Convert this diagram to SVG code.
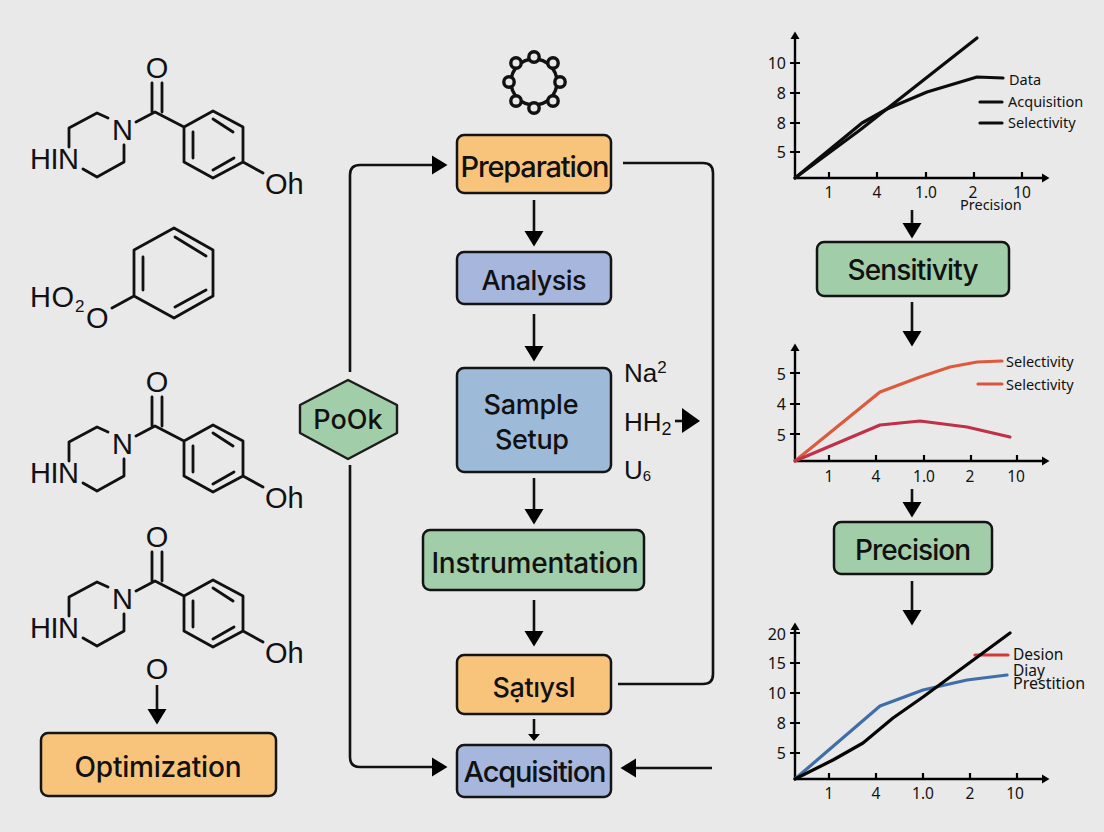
<svg xmlns="http://www.w3.org/2000/svg" width="1104" height="832" viewBox="0 0 1104 832">
<style>
.bg{fill:#e9e9e9}
.box{stroke:#141414;stroke-width:2.5}
.orange{fill:#f8c47c}.blue{fill:#a6b6dc}.sky{fill:#9dbad8}.green{fill:#a1cda8}
.lbl{font-family:Inter,"Noto Sans","Liberation Sans",sans-serif;font-weight:500;fill:#111;text-anchor:middle}
.chem{font-family:"Liberation Sans",Arial,sans-serif;font-size:29px;fill:#111}
.bond{fill:none;stroke:#111;stroke-width:2.8;stroke-linejoin:round;stroke-linecap:round}
.conn{fill:none;stroke:#111;stroke-width:2.6}
.axis{fill:none;stroke:#000;stroke-width:2.4}
.tick{fill:none;stroke:#000;stroke-width:2.2}
.plot{fill:none;stroke-width:3.2;stroke-linejoin:round;stroke-linecap:round}
.ynum{font-family:"Noto Sans","Liberation Sans",sans-serif;font-size:16px;fill:#111;text-anchor:end}
.xnum{font-family:"Noto Sans","Liberation Sans",sans-serif;font-size:15.5px;fill:#111;text-anchor:middle}
.leg{font-family:"Noto Sans","Liberation Sans",sans-serif;font-size:14.5px;fill:#111}
</style>
<defs>
<marker id="head" markerUnits="userSpaceOnUse" markerWidth="17" markerHeight="22" refX="1" refY="10" orient="auto"><polygon points="0,0.5 15.5,10 0,19.5" fill="#000"/></marker>
<marker id="small" markerUnits="userSpaceOnUse" markerWidth="10" markerHeight="14" refX="1" refY="7" orient="auto"><polygon points="0,1 7,7 0,13" fill="#000"/></marker>
<marker id="tip" markerUnits="userSpaceOnUse" markerWidth="10" markerHeight="12" refX="1" refY="5" orient="auto"><polygon points="0,0.5 7.5,5 0,9.5" fill="#000"/></marker>
</defs>
<rect class="bg" width="1104" height="832"/>

<g id="connectors">
<path class="conn" d="M350 372V175Q350 165 360 165H433" marker-end="url(#head)"/>
<path class="conn" d="M350 465V757Q350 767 360 767H433" marker-end="url(#head)"/>
<path class="conn" d="M623 163H703Q713 163 713 173V674Q713 684 703 684H618"/>
<path class="conn" d="M712 768H635" marker-end="url(#head)"/>
<path class="conn" d="M534 200V232" marker-end="url(#head)"/>
<path class="conn" d="M534 314V347" marker-end="url(#head)"/>
<path class="conn" d="M534 478V510" marker-end="url(#head)"/>
<path class="conn" d="M534 600V632" marker-end="url(#head)"/>
<path class="conn" d="M534 719V735" marker-end="url(#small)"/>
<path class="conn" d="M675 421H683"/>
<polygon points="682,408 700,421 682,433" fill="#000"/>
<path class="conn" d="M157 685V710" marker-end="url(#head)"/>
<path class="conn" d="M912 210V224" marker-end="url(#head)"/>
<path class="conn" d="M912 302V332" marker-end="url(#head)"/>
<path class="conn" d="M912 489V503" marker-end="url(#head)"/>
<path class="conn" d="M912 581V611" marker-end="url(#head)"/>
</g>

<g id="mol1">
<path class="bond" d="M108 118L97 113L69 128V147M124 145V162L97 177L83 169M136 122L155 112L184 127L213 111L243 127V162L213 178L184 162V127M193 132V158M213 119L233 132M213 170L234 158M243 162L263 173M152 83V112M162 83V112"/>
<text class="chem" x="112" y="140">N</text><text class="chem" x="30" y="169" textLength="49">HIN</text><text class="chem" x="265" y="194">Oh</text><text class="chem" x="157" y="78" text-anchor="middle">O</text>
</g>
<g id="mol2">
<path class="bond" d="M174 228L213 250V296L174 318L134 296V250ZM143 257V290M175 237L206 256M175 307L206 290M134 296L112 308"/>
<text class="chem" x="30" y="307" textLength="44">HO</text><text class="chem" x="75" y="312" style="font-size:17px">2</text><text class="chem" x="86" y="328">O</text>
</g>
<g id="mol3" transform="translate(0 314)">
<path class="bond" d="M108 118L97 113L69 128V147M124 145V162L97 177L83 169M136 122L155 112L184 127L213 111L243 127V162L213 178L184 162V127M193 132V158M213 119L233 132M213 170L234 158M243 162L263 173M152 83V112M162 83V112"/>
<text class="chem" x="112" y="140">N</text><text class="chem" x="30" y="169" textLength="49">HIN</text><text class="chem" x="265" y="194">Oh</text><text class="chem" x="157" y="78" text-anchor="middle">O</text>
</g>
<g id="mol4" transform="translate(0 469)">
<path class="bond" d="M108 118L97 113L69 128V147M124 145V162L97 177L83 169M136 122L155 112L184 127L213 111L243 127V162L213 178L184 162V127M193 132V158M213 119L233 132M213 170L234 158M243 162L263 173M152 83V112M162 83V112"/>
<text class="chem" x="112" y="140">N</text><text class="chem" x="30" y="169" textLength="49">HIN</text><text class="chem" x="265" y="194">Oh</text><text class="chem" x="157" y="78" text-anchor="middle">O</text>
</g>
<g id="mol5"><text class="chem" x="157" y="679" text-anchor="middle">O</text></g>

<g id="optimization"><rect class="box orange" x="41" y="733" width="235" height="63" rx="7"/><text class="lbl" x="158" y="777" font-size="28" textLength="167">Optimization</text></g>
<g id="preparation"><rect class="box orange" x="457" y="135" width="154" height="58" rx="7"/><text class="lbl" x="535" y="177" font-size="29" textLength="149">Preparation</text></g>
<g id="analysis"><rect class="box blue" x="457" y="252" width="154" height="52" rx="7"/><text class="lbl" x="534" y="290" font-size="27" textLength="105">Analysis</text></g>
<g id="sample-setup"><rect class="box sky" x="457" y="368" width="154" height="104" rx="7"/><text class="lbl" x="531" y="414" font-size="27" textLength="95">Sample</text><text class="lbl" x="532" y="449" font-size="27" textLength="74">Setup</text></g>
<g id="instrumentation"><rect class="box green" x="423" y="530" width="221" height="60" rx="7"/><text class="lbl" x="535" y="573" font-size="28" textLength="207">Instrumentation</text></g>
<g id="satiysl"><rect class="box orange" x="457" y="655" width="154" height="59" rx="7"/><text class="lbl" x="534" y="697" font-size="27" textLength="83">Sạtıysl</text></g>
<g id="acquisition"><rect class="box blue" x="457" y="745" width="154" height="52" rx="7"/><text class="lbl" x="535" y="782" font-size="29" textLength="143">Acquisition</text></g>
<g id="sensitivity"><rect class="box green" x="817" y="242" width="192" height="54" rx="7"/><text class="lbl" x="913" y="280" font-size="28" textLength="131">Sensitivity</text></g>
<g id="precision"><rect class="box green" x="834" y="522" width="158" height="52" rx="7"/><text class="lbl" x="913" y="560" font-size="28" textLength="116">Precision</text></g>
<g id="pook"><polygon points="348,380 397,405 397,433 348,459 300,433 300,405" fill="#a1cda8" stroke="#1c1c1c" stroke-width="2.4" stroke-linejoin="round"/><text class="lbl" x="348" y="429" font-size="27">PoOk</text></g>

<g id="ring" fill="#e9e9e9" stroke="#111" stroke-width="3.4">
<circle cx="534" cy="82" r="23" fill="none"/>
<circle cx="534" cy="57" r="5.2"/><circle cx="553" cy="63" r="5.2"/><circle cx="560" cy="82" r="5.2"/><circle cx="553" cy="101" r="5.2"/><circle cx="534" cy="108" r="5.2"/><circle cx="516" cy="101" r="5.2"/><circle cx="509" cy="82" r="5.2"/><circle cx="516" cy="63" r="5.2"/>
</g>
<g id="formulas" font-family="Liberation Sans, Arial, sans-serif" font-size="26" fill="#111">
<text x="624" y="382">Na<tspan font-size="17" dy="-9">2</tspan></text>
<text x="624" y="431">HH<tspan font-size="18" dy="4">2</tspan></text>
<text x="624" y="479">U<tspan font-size="15" dy="2">6</tspan></text>
</g>

<g id="chart1">
<path class="axis" d="M795 178V38" marker-end="url(#tip)"/><path class="axis" d="M794 178H1043" marker-end="url(#tip)"/>
<path class="tick" d="M790 63H800M790 93H800M790 123H800M790 152H800M829 172V178M877 172V178M926 172V178M974 172V178M1022 172V178"/>
<text class="ynum" x="786" y="69">10</text><text class="ynum" x="786" y="99">8</text><text class="ynum" x="786" y="129">8</text><text class="ynum" x="786" y="158">5</text>
<text class="xnum" x="829" y="198">1</text><text class="xnum" x="877" y="198">4</text><text class="xnum" x="926" y="198">1.0</text><text class="xnum" x="973" y="198">2</text><text class="xnum" x="1022" y="198">10</text>
<text class="leg" x="960" y="210">Precision</text>
<path class="plot" stroke="#0c0c0c" d="M795 178L860 130L977 38"/>
<path class="plot" stroke="#0c0c0c" d="M795 178L862 123L887 109L927 92L977 77L1003 78"/>
<path class="plot" stroke="#0c0c0c" d="M980 102H1002M980 123H1002"/>
<text class="leg" x="1009" y="85">Data</text><text class="leg" x="1008" y="107">Acquisition</text><text class="leg" x="1008" y="128">Selectivity</text>
</g>

<g id="chart2">
<path class="axis" d="M795 461V350" marker-end="url(#tip)"/><path class="axis" d="M794 461H1043" marker-end="url(#tip)"/>
<path class="tick" d="M790 373H800M790 404H800M790 434H800M829 455V461M876 455V461M924 455V461M971 455V461M1017 455V461"/>
<text class="ynum" x="786" y="380">5</text><text class="ynum" x="786" y="410">4</text><text class="ynum" x="786" y="441">5</text>
<text class="xnum" x="829" y="482">1</text><text class="xnum" x="876" y="482">4</text><text class="xnum" x="924" y="482">1.0</text><text class="xnum" x="970" y="482">2</text><text class="xnum" x="1016" y="482">10</text>
<path class="plot" stroke="#dd5a3c" d="M795 461L880 392L920 377L950 367L977 362L1002 361"/>
<path class="plot" stroke="#bf3049" d="M795 461L880 425L920 421L967 427L1010 437"/>
<path class="plot" stroke="#d9553f" d="M978 384H1002"/>
<text class="leg" x="1006" y="367">Selectivity</text><text class="leg" x="1006" y="390">Selectivity</text>
</g>

<g id="chart3">
<path class="axis" d="M795 779V629" marker-end="url(#tip)"/><path class="axis" d="M794 779H1043" marker-end="url(#tip)"/>
<path class="tick" d="M790 633H800M790 663H800M790 693H800M790 723H800M790 753H800M829 773V779M876 773V779M923 773V779M970 773V779M1017 773V779"/>
<text class="ynum" x="786" y="640">20</text><text class="ynum" x="786" y="669">15</text><text class="ynum" x="786" y="699">10</text><text class="ynum" x="786" y="729">8</text><text class="ynum" x="786" y="759">5</text>
<text class="xnum" x="829" y="799">1</text><text class="xnum" x="876" y="799">4</text><text class="xnum" x="923" y="799">1.0</text><text class="xnum" x="970" y="799">2</text><text class="xnum" x="1015" y="799">10</text>
<path class="plot" stroke="#d13a3a" d="M975 655H1008"/>
<path class="plot" stroke="#3f6ea8" d="M795 779L880 706L923 690L967 680L1007 675"/>
<path class="plot" stroke="#050505" d="M795 779L833 760L863 743L893 718L923 697L1010 633"/>
<text class="leg" x="1013" y="660" style="font-size:15.5px">Desion</text><text class="leg" x="1013" y="676" style="font-size:15.5px">Diay</text><text class="leg" x="1013" y="689" style="font-size:16px">Prestition</text>
</g>
</svg>
